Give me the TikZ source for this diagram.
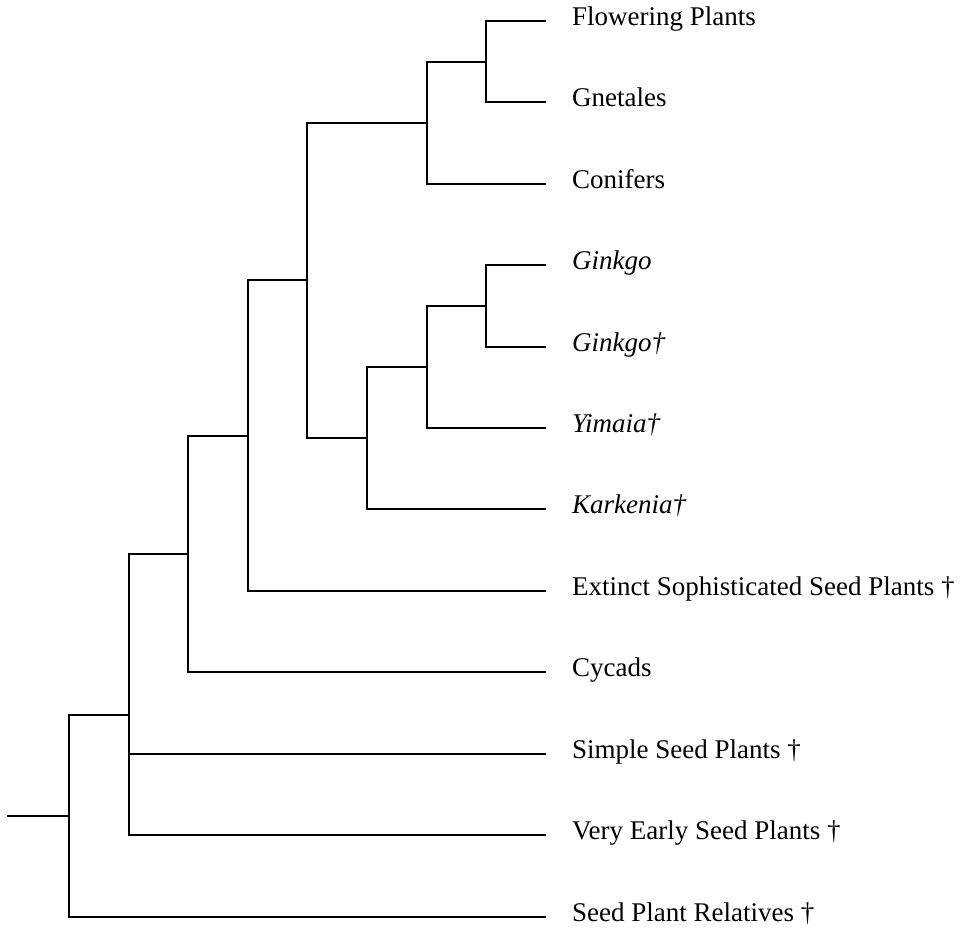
\documentclass[tikz,border=0pt]{standalone}
\usepackage{fontspec}
\setmainfont{Liberation Serif}
\usetikzlibrary{positioning}

\begin{document}
\begin{tikzpicture}[
    x=1pt, y=-1pt,
    % GLOBAL CFG
    font=\fontsize{27}{32}\selectfont,
    % Styles
    branch/.style={% For tree edges
        line width=2.5pt,
        line cap=rect,
        black,
    },
    taxon/.style={% For leaf labels
        anchor=mid west,
        inner sep=0pt,
        yshift=-2.5pt,
    },
    ]
    \useasboundingbox (0,0) rectangle (966,932);

    % Coordinates: leaf ends
    \coordinate (fpEnd) at (545,21);
    \coordinate (gnEnd) at (545,102);
    \coordinate (cnEnd) at (545,184);
    \coordinate (gkEnd) at (545,265);
    \coordinate (gdEnd) at (545,347);
    \coordinate (ymEnd) at (545,428);
    \coordinate (kkEnd) at (545,509);
    \coordinate (exEnd) at (545,591);
    \coordinate (cyEnd) at (545,672);
    \coordinate (spEnd) at (545,754);
    \coordinate (veEnd) at (545,835);
    \coordinate (srEnd) at (545,917);

    % Coordinates: internal nodes
    \coordinate (nFG)   at (486,62);
    \coordinate (nFGC)  at (427,123);
    \coordinate (nGG)   at (486,306);
    \coordinate (nGGY)  at (427,367);
    \coordinate (nGGYK) at (367,438);
    \coordinate (nCG)   at (307,280);
    \coordinate (nCGE)  at (248,436);
    \coordinate (nCGEC) at (188,554);
    \coordinate (nT)    at (129,715);
    \coordinate (nR)    at (69,816);
    \coordinate (root)  at (8,816);

    % Draw labels
    \node[taxon] (fp) at (572,21)  {Flowering Plants};
    \node[taxon] (gn) at (572,102) {Gnetales};
    \node[taxon] (cn) at (572,184) {Conifers};
    \node[taxon] (gk) at (572,265) {\itshape Ginkgo};
    \node[taxon] (gd) at (572,347) {\itshape Ginkgo†};
    \node[taxon] (ym) at (572,428) {\itshape Yimaia†};
    \node[taxon] (kk) at (572,509) {\itshape Karkenia†};
    \node[taxon] (ex) at (572,591) {Extinct Sophisticated Seed Plants †};
    \node[taxon] (cy) at (572,672) {Cycads};
    \node[taxon] (sp) at (572,754) {Simple Seed Plants †};
    \node[taxon] (ve) at (572,835) {Very Early Seed Plants †};
    \node[taxon] (sr) at (572,917) {Seed Plant Relatives †};

    % Upper clade
    \draw[branch] (fpEnd) -| (nFG) |- (gnEnd);
    \draw[branch] (nFG) -| (nFGC) |- (cnEnd);

    % Ginkgo clade
    \draw[branch] (gkEnd) -| (nGG) |- (gdEnd);
    \draw[branch] (nGG) -| (nGGY) |- (ymEnd);
    \draw[branch] (nGGY) -| (nGGYK) |- (kkEnd);

    % Backbone
    \draw[branch] (nFGC) -| (nCG) |- (nGGYK);
    \draw[branch] (nCG) -| (nCGE) |- (exEnd);
    \draw[branch] (nCGE) -| (nCGEC) |- (cyEnd);
    \draw[branch] (nCGEC) -| (nT) |- (veEnd);
    \draw[branch] (nT |- spEnd) -- (spEnd);
    \draw[branch] (nT) -| (nR) |- (srEnd);
    \draw[branch] (root) -- (nR);

\end{tikzpicture}
\end{document}
